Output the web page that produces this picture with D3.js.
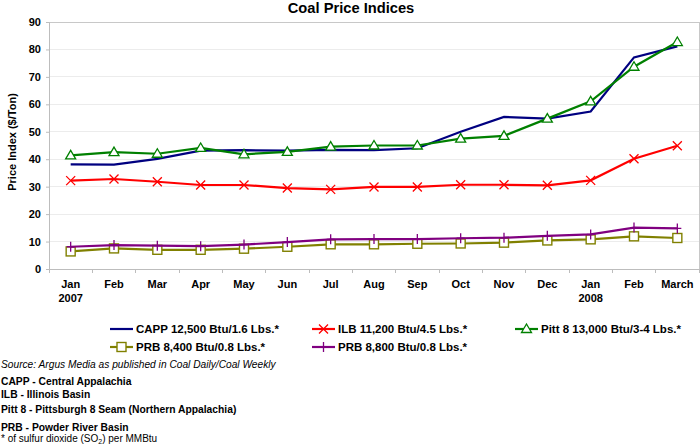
<!DOCTYPE html>
<html><head><meta charset="utf-8">
<script src="https://cdn.jsdelivr.net/npm/d3@7"></script>
<style>body{margin:0;background:#fff;}svg{display:block;font-family:"Liberation Sans",Arial,sans-serif;}</style>
</head><body>
<svg id="c" width="700" height="444"></svg>
<script>
const months = ["Jan|2007","Feb","Mar","Apr","May","Jun","Jul","Aug","Sep","Oct","Nov","Dec","Jan|2008","Feb","March"];
const yTicks = [0,10,20,30,40,50,60,70,80,90];
const capp  = [38.1,38.0,40.1,43.1,43.3,43.1,43.4,43.3,44.0,50.0,55.4,54.8,57.4,77.1,81.1];
const ilb   = [32.2,32.8,31.8,30.6,30.6,29.5,29.0,29.9,29.9,30.7,30.7,30.5,32.3,40.2,44.9];
const pitt  = [41.4,42.6,42.0,44.1,41.8,42.7,44.6,45.0,45.0,47.5,48.5,54.8,61.1,73.7,82.7];
const prb84 = [6.4,7.5,7.0,7.0,7.4,8.1,9.0,9.0,9.2,9.3,9.6,10.4,10.8,11.9,11.3];
const prb88 = [8.1,8.7,8.5,8.3,8.9,9.8,10.8,10.9,10.9,11.2,11.4,12.1,12.6,15.1,14.8];
const seriesNames = ["CAPP 12,500 Btu/1.6 Lbs.*","ILB 11,200 Btu/4.5 Lbs.*","Pitt 8 13,000 Btu/3-4 Lbs.*","PRB 8,400 Btu/0.8 Lbs.*","PRB 8,800 Btu/0.8 Lbs.*"];

const series = [
  {name:seriesNames[0], vals:capp,  color:"#000080", marker:"none"},
  {name:seriesNames[1], vals:ilb,   color:"#ff0000", marker:"x"},
  {name:seriesNames[2], vals:pitt,  color:"#008000", marker:"tri"},
  {name:seriesNames[3], vals:prb84, color:"#808000", marker:"sq"},
  {name:seriesNames[4], vals:prb88, color:"#800080", marker:"plus"}
];
const drawOrder = [3,4,1,0,2];

const svg = d3.select("#c");
const L=49, R=699, T=22, B=269;
const x = d3.scaleBand().domain(d3.range(months.length)).range([L,R]);
const y = d3.scaleLinear().domain([0,90]).range([B,T]);

// title
svg.append("text").attr("x",351).attr("y",12.5).attr("text-anchor","middle")
  .attr("font-weight","bold").attr("font-size","14.7px").text("Coal Price Indices");

// gridlines
svg.append("g").selectAll("line").data(yTicks.filter(d=>d>0)).join("line")
  .attr("x1",L).attr("x2",R).attr("y1",d=>y(d)).attr("y2",d=>y(d))
  .attr("stroke","#ececec").attr("stroke-width",1).attr("shape-rendering","crispEdges");
// frame top/right
svg.append("path").attr("d",`M${L},${T}H${R}V${B}`).attr("fill","none")
  .attr("stroke","#c8c8c8").attr("shape-rendering","crispEdges");

// y axis
const ya = svg.append("g").attr("transform",`translate(${L},0)`)
  .call(d3.axisLeft(y).tickValues(yTicks).tickSize(3).tickPadding(5));
ya.select(".domain").attr("stroke","#bdbdbd");
ya.selectAll(".tick line").attr("stroke","#bdbdbd");
ya.selectAll("text").attr("font-weight","bold").attr("font-size","11px")
  .attr("font-family","Liberation Sans, Arial, sans-serif").attr("fill","#000");

// x axis
const xa = svg.append("g").attr("transform",`translate(0,${B})`)
  .call(d3.axisBottom(x).tickValues([]).tickSize(0));
xa.select(".domain").attr("stroke","#bdbdbd");
svg.append("g").selectAll("line").data(d3.range(months.length+1)).join("line")
  .attr("x1",i=>L+i*x.step()).attr("x2",i=>L+i*x.step())
  .attr("y1",B).attr("y2",B+4).attr("stroke","#bdbdbd").attr("shape-rendering","crispEdges");
const xl = svg.append("g").selectAll("text").data(months).join("text")
  .attr("x",(d,i)=>x(i)+x.bandwidth()/2).attr("y",288)
  .attr("text-anchor","middle").attr("font-weight","bold").attr("font-size","11px");
xl.each(function(d){
  const parts=d.split("|"); const t=d3.select(this);
  parts.forEach((p,k)=>t.append("tspan").attr("x",t.attr("x")).attr("dy",k?13.5:0).text(p));
});

// y label
svg.append("text").attr("transform","translate(16,142) rotate(-90)")
  .attr("text-anchor","middle").attr("font-weight","bold").attr("font-size","11px")
  .text("Price Index ($/Ton)");

function marker(g, type, color, cx, cy){
  if(type==="x"){
    g.append("path").attr("d",`M${cx-4.5},${cy-4.5}L${cx+4.5},${cy+4.5}M${cx-4.5},${cy+4.5}L${cx+4.5},${cy-4.5}`)
      .attr("stroke",color).attr("stroke-width",1.3).attr("fill","none");
  } else if(type==="tri"){
    g.append("path").attr("d",`M${cx},${cy-5}L${cx+5},${cy+3.5}L${cx-5},${cy+3.5}Z`)
      .attr("stroke",color).attr("stroke-width",1.3).attr("fill","#fff");
  } else if(type==="sq"){
    g.append("rect").attr("x",cx-4.5).attr("y",cy-4.5).attr("width",9).attr("height",9)
      .attr("stroke",color).attr("stroke-width",1.4).attr("fill","#fff");
  } else if(type==="plus"){
    g.append("path").attr("d",`M${cx},${cy-5}V${cy+5}M${cx-4},${cy}H${cx+4}`)
      .attr("stroke",color).attr("stroke-width",1.3).attr("fill","none");
  }
}

const line = d3.line().x((d,i)=>x(i)+x.bandwidth()/2).y(d=>y(d));
drawOrder.forEach(si=>{
  const s=series[si];
  const g=svg.append("g");
  g.append("path").attr("d",line(s.vals)).attr("fill","none").attr("stroke",s.color).attr("stroke-width",2.2);
  s.vals.forEach((v,i)=>marker(g,s.marker,s.color,x(i)+x.bandwidth()/2,y(v)));
});

// legend
const legPos = [[110,329],[312,329],[515,329],[110,347],[312,347]];
series.forEach((s,i)=>{
  const [lx,ly]=legPos[i];
  const g=svg.append("g");
  g.append("line").attr("x1",lx).attr("x2",lx+23).attr("y1",ly).attr("y2",ly).attr("stroke",s.color).attr("stroke-width",2.2);
  marker(g,s.marker,s.color,lx+11.5,ly);
  g.append("text").attr("x",lx+26).attr("y",ly+4).attr("font-weight","bold").attr("font-size","11.5px").text(s.name);
});

// footnotes
const notes = svg.append("g").attr("font-size","10.3px");
notes.append("text").attr("x",1).attr("y",368).attr("font-size","10.2px").attr("font-style","italic").text("Source: Argus Media as published in Coal Daily/Coal Weekly");
[["CAPP - Central Appalachia",385],["ILB - Illinois Basin",398],["Pitt 8 - Pittsburgh 8 Seam (Northern Appalachia)",413],["PRB - Powder River Basin",431]]
  .forEach(([t,yy])=>notes.append("text").attr("x",1).attr("y",yy).attr("font-weight","bold").text(t));
const fn = notes.append("text").attr("x",1).attr("y",442).attr("font-size","10px");
fn.append("tspan").text("* of sulfur dioxide (SO");
fn.append("tspan").attr("font-size","7px").attr("dy",2).text("2");
fn.append("tspan").attr("dy",-2).text(") per MMBtu");
</script>
</body></html>
